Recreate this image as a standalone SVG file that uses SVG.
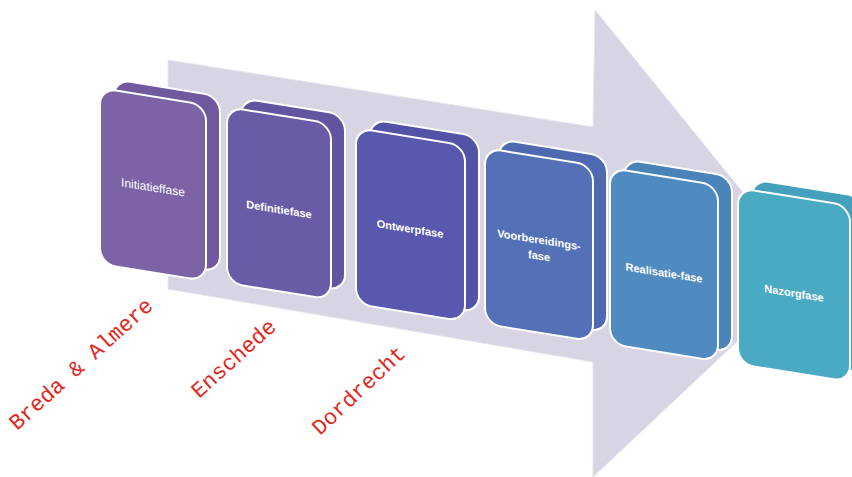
<svg xmlns="http://www.w3.org/2000/svg" width="852" height="477" viewBox="0 0 852 477">
<style>
.card{stroke:#ffffff;stroke-width:2}
.lbl{fill:#ffffff;font-family:"Liberation Sans",Arial,sans-serif;font-size:11px;text-anchor:middle}
.r{font-size:12px}
.b{font-weight:bold}
.city{fill:#e3261c;font-family:"Liberation Mono","Courier New",monospace;font-size:22px}
</style>
<rect width="852" height="477" fill="#ffffff"/>
<g id="arrow">
<polygon points="168,60 593,127 595,10 809,274 593,477 593,362 168,289" fill="#d7d4e3" stroke="#e6e4ee" stroke-width="1"/>
</g>
<g id="initiatieffase" transform="matrix(1,0.16,0,1,100,88)">
<rect class="card" x="14" y="-11" width="106" height="176" rx="16" fill="#7159a0"/>
<rect class="card" x="0" y="0" width="106" height="176" rx="16" fill="#7c63a5"/>
<text class="lbl r" x="53" y="95">Initiatieffase</text>
</g>
<g id="definitiefase" transform="matrix(1,0.16,0,1,227,107)">
<rect class="card" x="14" y="-11" width="104" height="176" rx="16" fill="#6354a0"/>
<rect class="card" x="0" y="0" width="104" height="176" rx="16" fill="#6a5ba7"/>
<text class="lbl b" x="52" y="98">Definitiefase</text>
</g>
<g id="ontwerpfase" transform="matrix(1,0.16,0,1,356,128)">
<rect class="card" x="14" y="-11" width="109" height="176" rx="16" fill="#5252a6"/>
<rect class="card" x="0" y="0" width="109" height="176" rx="16" fill="#5858ae"/>
<text class="lbl b" x="54" y="96">Ontwerpfase</text>
</g>
<g id="voorbereidingsfase" transform="matrix(1,0.16,0,1,485,148)">
<rect class="card" x="14" y="-11" width="108" height="176" rx="16" fill="#4e69b0"/>
<rect class="card" x="0" y="0" width="108" height="176" rx="16" fill="#5471b7"/>
<text class="lbl b" x="54" y="87">Voorbereidings-</text>
<text class="lbl b" x="54" y="103">fase</text>
</g>
<g id="realisatiefase" transform="matrix(1,0.16,0,1,610,168)">
<rect class="card" x="14" y="-11" width="108" height="176" rx="16" fill="#4983ba"/>
<rect class="card" x="0" y="0" width="108" height="176" rx="16" fill="#4f8bc1"/>
<text class="lbl b" x="54" y="100">Realisatie-fase</text>
</g>
<g id="nazorgfase" transform="matrix(1,0.16,0,1,738,188)">
<rect class="card" x="14" y="-11" width="112" height="176" rx="16" fill="#44a0bb"/>
<rect class="card" x="0" y="0" width="112" height="176" rx="16" fill="#4aa9c3"/>
<text class="lbl b" x="56" y="100">Nazorgfase</text>
</g>
<g id="connectors"></g>
<g id="cities">
<text class="city" transform="translate(17,431) rotate(-42)">Breda &amp; Almere</text>
<text class="city" transform="translate(199,399) rotate(-42)">Enschede</text>
<text class="city" transform="translate(320,436) rotate(-43)">Dordrecht</text>
</g>
</svg>
